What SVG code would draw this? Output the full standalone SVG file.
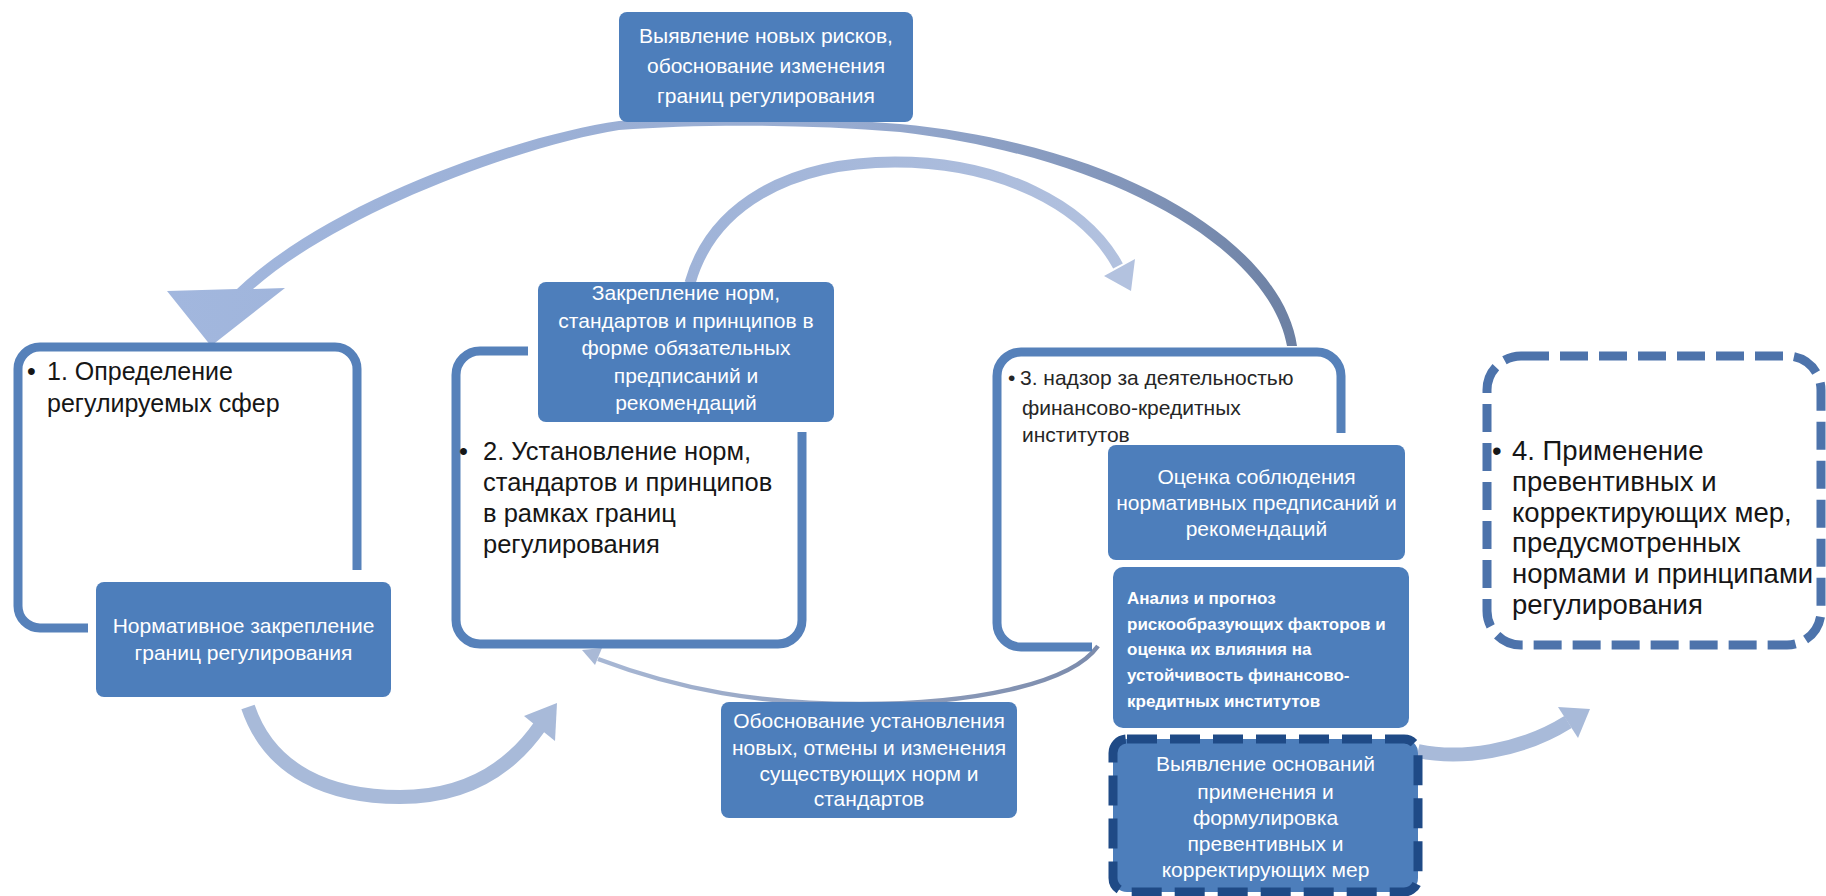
<svg xmlns="http://www.w3.org/2000/svg" width="1826" height="896" viewBox="0 0 1826 896">
<defs>
  <linearGradient id="gBig" gradientUnits="userSpaceOnUse" x1="170" y1="0" x2="1300" y2="0">
    <stop offset="0" stop-color="#a2b7de"/>
    <stop offset="0.6" stop-color="#97abd0"/>
    <stop offset="0.85" stop-color="#8295b9"/>
    <stop offset="1" stop-color="#6b7fa2"/>
  </linearGradient>
  <linearGradient id="gArc2" gradientUnits="userSpaceOnUse" x1="690" y1="0" x2="1140" y2="0">
    <stop offset="0" stop-color="#9fb3d8"/>
    <stop offset="1" stop-color="#b3c2df"/>
  </linearGradient>
  <linearGradient id="gGray" gradientUnits="userSpaceOnUse" x1="580" y1="0" x2="1100" y2="0">
    <stop offset="0" stop-color="#a9b9d6"/>
    <stop offset="0.6" stop-color="#8e9dbb"/>
    <stop offset="1" stop-color="#7b8bac"/>
  </linearGradient>
</defs>
<style>
  .box{fill:#4d7ebb}
  .frame{fill:none;stroke:#5681ba;stroke-width:9;stroke-linecap:butt}
  .light{fill:none;stroke:#a8bad9;stroke-linecap:butt}
  .lighthead{fill:#a8bad9}
  .wt{font-family:"Liberation Sans",Arial,sans-serif;fill:#ffffff;font-size:21px;text-anchor:middle}
  .bt{font-family:"Liberation Sans",Arial,sans-serif;fill:#161616}
  .gt{font-family:"Liberation Sans",Arial,sans-serif;fill:#262626;font-size:21px}
  .an{font-family:"Liberation Sans",Arial,sans-serif;fill:#ffffff;font-size:17px;font-weight:bold}
</style>
<rect x="0" y="0" width="1826" height="896" fill="#ffffff"/>

<g id="connectors">
  <path d="M1297,346 C1283,248 1131,146 900,124 C800,116 700,116 619,121 C520,135 330,200 237,289 L167,291 L211,346 L285,288 L253,289 C343,210 528,144 619,130 C700,124 800,124 900,132 C1120,158 1270,252 1287,346 Z" fill="url(#gBig)"/>
  <path d="M690,283 C712,205 790,162 895,162 C1000,162 1085,205 1118,266" fill="none" stroke="url(#gArc2)" stroke-width="11"/>
  <polygon points="1131,291 1104,276 1135,259" fill="#b3c2df"/>
  <path class="light" d="M248,707 C270,772 330,797 400,797 C462,797 508,772 540,726" stroke-width="14"/>
  <polygon class="lighthead" points="557,703 524,716 555,741"/>
  <path class="light" d="M1418,751 C1460,760 1520,752 1568,722" stroke-width="14"/>
  <polygon class="lighthead" points="1590,709 1558,707 1578,738"/>
  <path d="M1098,646 C1070,685 970,704 860,704 C760,704 680,690 598,659" fill="none" stroke="url(#gGray)" stroke-width="4.5"/>
  <polygon points="582,650 602,648 595,665" fill="#a9b9d6"/>
</g>

<g id="node-step1">
  <path class="frame" d="M88,628 L40,628 A22,22 0 0 1 18,606 L18,369 A22,22 0 0 1 40,347 L335,347 A22,22 0 0 1 357,369 L357,570"/>
  <text class="bt" font-size="25"><tspan x="27" y="380">•</tspan><tspan x="47" y="380">1. Определение</tspan><tspan x="47" y="412">регулируемых сфер</tspan></text>
</g>

<g id="node-step2">
  <path class="frame" d="M528,351 L480,351 A24,24 0 0 0 456,375 L456,620 A24,24 0 0 0 480,644 L778,644 A24,24 0 0 0 802,620 L802,432"/>
  <text class="bt" font-size="25.5"><tspan x="459" y="460">•</tspan><tspan x="483" y="460">2. Установление норм,</tspan><tspan x="483" y="491">стандартов и принципов</tspan><tspan x="483" y="522">в рамках границ</tspan><tspan x="483" y="553">регулирования</tspan></text>
</g>

<g id="node-step3">
  <path class="frame" d="M1092,647 L1021,647 A24,24 0 0 1 997,623 L997,376 A24,24 0 0 1 1021,352 L1317,352 A24,24 0 0 1 1341,376 L1341,433"/>
  <text class="gt"><tspan x="1008" y="385">•</tspan><tspan x="1020" y="385">3. надзор за деятельностью</tspan><tspan x="1022" y="415">финансово-кредитных</tspan><tspan x="1022" y="442">институтов</tspan></text>
</g>

<g id="node-step4">
  <rect x="1487" y="356" width="334" height="289" rx="34" fill="#ffffff" stroke="#4d73ab" stroke-width="9" stroke-dasharray="28 11"/>
  <text class="bt" font-size="27.5"><tspan x="1492" y="460">•</tspan><tspan x="1512" y="460">4. Применение</tspan><tspan x="1512" y="491">превентивных и</tspan><tspan x="1512" y="522">корректирующих мер,</tspan><tspan x="1512" y="552">предусмотренных</tspan><tspan x="1512" y="583">нормами и принципами</tspan><tspan x="1512" y="614">регулирования</tspan></text>
</g>

<g id="node-new-risks">
  <rect class="box" x="619" y="12" width="294" height="110" rx="8"/>
  <text class="wt"><tspan x="766" y="43">Выявление новых рисков,</tspan><tspan x="766" y="73">обоснование изменения</tspan><tspan x="766" y="103">границ регулирования</tspan></text>
</g>

<g id="node-normative">
  <rect class="box" x="96" y="582" width="295" height="115" rx="8"/>
  <text class="wt"><tspan x="243.5" y="633">Нормативное закрепление</tspan><tspan x="243.5" y="660">границ регулирования</tspan></text>
</g>

<g id="node-fixing">
  <rect class="box" x="538" y="282" width="296" height="140" rx="8"/>
  <text class="wt"><tspan x="686" y="300">Закрепление норм,</tspan><tspan x="686" y="327.5">стандартов и принципов в</tspan><tspan x="686" y="355">форме обязательных</tspan><tspan x="686" y="382.5">предписаний и</tspan><tspan x="686" y="410">рекомендаций</tspan></text>
</g>

<g id="node-justification">
  <rect class="box" x="721" y="702" width="296" height="116" rx="8"/>
  <text class="wt" font-size="21.5"><tspan x="869" y="728">Обоснование установления</tspan><tspan x="869" y="755">новых, отмены и изменения</tspan><tspan x="869" y="781">существующих норм и</tspan><tspan x="869" y="806">стандартов</tspan></text>
</g>

<g id="node-assessment">
  <rect class="box" x="1108" y="445" width="297" height="115" rx="8"/>
  <text class="wt"><tspan x="1256.5" y="484">Оценка соблюдения</tspan><tspan x="1256.5" y="510">нормативных предписаний и</tspan><tspan x="1256.5" y="536">рекомендаций</tspan></text>
</g>

<g id="node-analysis">
  <rect class="box" x="1113" y="567" width="296" height="161" rx="10"/>
  <text class="an"><tspan x="1127" y="604">Анализ и прогноз</tspan><tspan x="1127" y="630">рискообразующих факторов и</tspan><tspan x="1127" y="655">оценка их влияния на</tspan><tspan x="1127" y="681">устойчивость финансово-</tspan><tspan x="1127" y="707">кредитных институтов</tspan></text>
</g>

<g id="node-grounds">
  <rect class="box" x="1113" y="739" width="305" height="153" rx="14" stroke="#1f4a86" stroke-width="9" stroke-dasharray="30 13"/>
  <text class="wt"><tspan x="1265.5" y="771">Выявление оснований</tspan><tspan x="1265.5" y="799">применения и</tspan><tspan x="1265.5" y="825">формулировка</tspan><tspan x="1265.5" y="851">превентивных и</tspan><tspan x="1265.5" y="877">корректирующих мер</tspan></text>
</g>
</svg>
